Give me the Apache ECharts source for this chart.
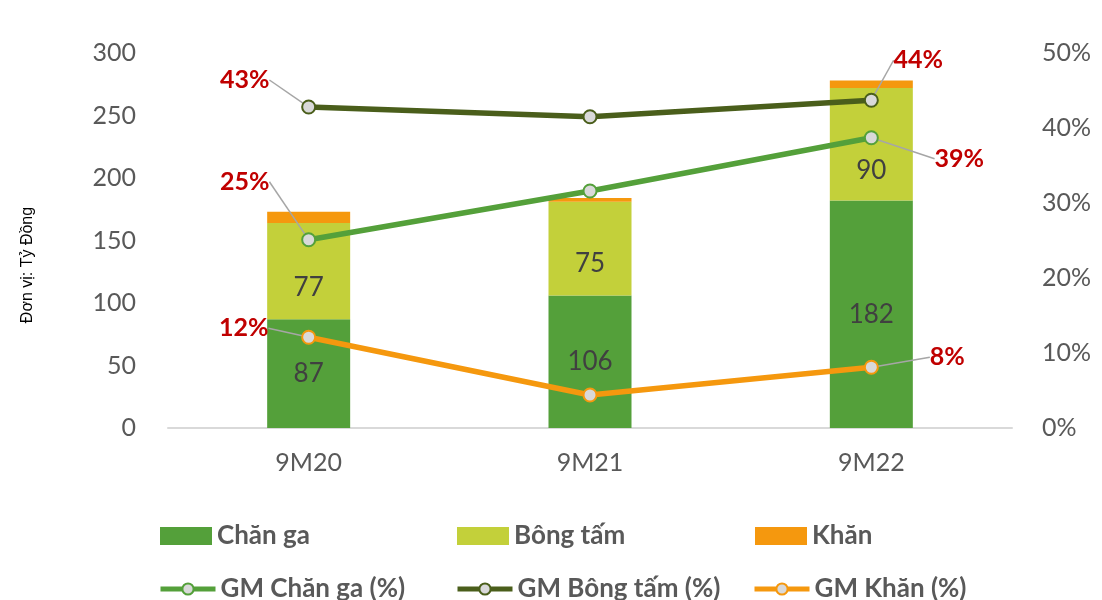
<!DOCTYPE html>
<html>
<head>
<meta charset="utf-8">
<script src="https://cdn.jsdelivr.net/npm/echarts@6/dist/echarts.min.js"></script>
<style>
html,body{margin:0;padding:0;background:#fff;}
#main{width:1102px;height:600px;}
</style>
</head>
<body>
<div id="main"></div>
<script>
// ---- Data ----
const categories = ['9M20', '9M21', '9M22'];
const chanGa = [87, 106, 182];
const bongTam = [77, 75, 90];
const khan = [9, 3, 6];
const gmChanGa = [25.1, 31.6, 38.7];
const gmBongTam = [42.8, 41.5, 43.7];
const gmKhan = [12.1, 4.4, 8.1];
const leftMax = 300, leftStep = 50;
const rightMax = 50, rightStep = 10;

// ---- Styling ----
const FONT = 'Lato, "Open Sans", sans-serif';
const GRAY = '#595959';
const C_CHAN = '#54A03A';
const C_BONG = '#C3D03A';
const C_KHAN = '#F5980E';
const C_DARK = '#4A5E1B';
const RED = '#C00000';

// label offsets (px) from point for first and last labels
const labelOffsets = {
  'GM Chăn ga (%)': {0: [-64, -58], 2: [88, 21]},
  'GM Bông tấm (%)': {0: [-64, -27], 2: [47, -40]},
  'GM Khăn (%)': {0: [-65, -9], 2: [76, -10]}
};
// vertical shift of the inside labels of the "Bông tấm" segments
const bongTamLabelShift = [16, 15, 26];

function lineData(arr) {
  return arr.map((v, i) => ({
    value: v,
    label: {show: i === 0 || i === arr.length - 1}
  }));
}

function lineSeries(name, data, color) {
  return {
    name: name,
    type: 'line',
    yAxisIndex: 1,
    data: lineData(data),
    symbol: 'circle',
    symbolSize: 13,
    lineStyle: {color: color, width: 5.5},
    itemStyle: {color: '#D9D9D9', borderColor: color, borderWidth: 2},
    z: 5,
    label: {
      show: false,
      position: 'inside',
      formatter: p => Math.round(p.value) + '%',
      color: RED,
      fontWeight: 'bold',
      fontSize: 25,
      fontFamily: FONT
    },
    labelLine: {show: true, lineStyle: {color: '#A6A6A6', width: 1.5}},
    labelLayout: function (params) {
      const off = (labelOffsets[name] || {})[params.dataIndex];
      if (!off) return {};
      const cx = params.rect.x + params.rect.width / 2;
      const cy = params.rect.y + params.rect.height / 2;
      return {x: cx + off[0], y: cy + off[1], align: 'center', verticalAlign: 'middle'};
    }
  };
}

const barLabel = {
  show: true,
  position: 'inside',
  color: '#404040',
  fontSize: 26,
  fontFamily: FONT
};

const legendText = {color: GRAY, fontSize: 26, fontWeight: 'bold', fontFamily: FONT};
function legendItem(name, left, top, isLine) {
  const item = {
    data: [name],
    left: left,
    top: top,
    itemWidth: isLine ? 55 : 52,
    itemHeight: isLine ? 14 : 18,
    itemGap: 6,
    textStyle: legendText,
    selectedMode: false
  };
  if (isLine) item.lineStyle = {width: 5};
  else item.icon = 'rect';
  return item;
}

const chart = echarts.init(document.getElementById('main'));
chart.setOption({
  animation: false,
  backgroundColor: '#fff',
  grid: {left: 168, right: 90, top: 53, bottom: 172},
  legend: [
    legendItem('Chăn ga', 155, 518, false),
    legendItem('Bông tấm', 452, 518, false),
    legendItem('Khăn', 750, 518, false),
    legendItem('GM Chăn ga (%)', 153, 571, true),
    legendItem('GM Bông tấm (%)', 450, 571, true),
    legendItem('GM Khăn (%)', 747, 571, true)
  ],
  graphic: [{
    type: 'text',
    x: 28,
    y: 265,
    rotation: Math.PI / 2,
    style: {
      text: 'Đơn vị: Tỷ Đồng',
      fill: '#000',
      font: '16px "Liberation Sans", Arial, sans-serif',
      align: 'center',
      verticalAlign: 'middle'
    }
  }],
  xAxis: {
    type: 'category',
    data: categories,
    axisLine: {show: true, lineStyle: {color: '#D9D9D9', width: 2}},
    axisTick: {show: false},
    axisLabel: {color: GRAY, fontSize: 25, fontFamily: FONT, margin: 22}
  },
  yAxis: [{
    type: 'value',
    min: 0, max: leftMax, interval: leftStep,
    splitLine: {show: false},
    axisLine: {show: false},
    axisTick: {show: false},
    axisLabel: {color: GRAY, fontSize: 25, fontFamily: FONT, margin: 32}
  }, {
    type: 'value',
    min: 0, max: rightMax, interval: rightStep,
    splitLine: {show: false},
    axisLine: {show: false},
    axisTick: {show: false},
    axisLabel: {color: GRAY, fontSize: 25, fontFamily: FONT, margin: 30, formatter: '{value}%'}
  }],
  series: [
    {name: 'Chăn ga', type: 'bar', stack: 'rev', data: chanGa, barWidth: 83,
      itemStyle: {color: C_CHAN}, label: barLabel},
    {name: 'Bông tấm', type: 'bar', stack: 'rev',
      data: bongTam.map((v, i) => ({value: v, label: {offset: [0, bongTamLabelShift[i]]}})),
      itemStyle: {color: C_BONG}, label: barLabel},
    {name: 'Khăn', type: 'bar', stack: 'rev', data: khan,
      itemStyle: {color: C_KHAN}},
    lineSeries('GM Chăn ga (%)', gmChanGa, C_CHAN),
    lineSeries('GM Bông tấm (%)', gmBongTam, C_DARK),
    lineSeries('GM Khăn (%)', gmKhan, C_KHAN)
  ]
});
</script>
</body>
</html>
